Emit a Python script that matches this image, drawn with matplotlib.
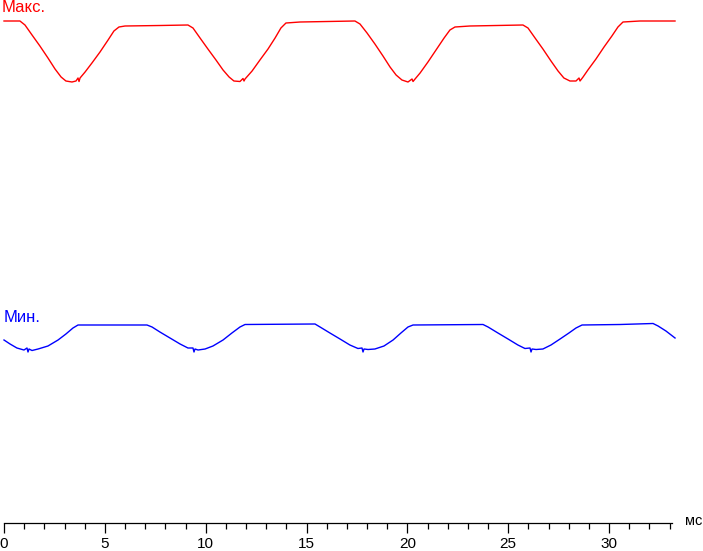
import matplotlib.pyplot as plt
from matplotlib.ticker import MultipleLocator

# brightness curves, time in ms, brightness in relative units
max_t = [0.00, 0.79, 1.04, 1.39, 1.78, 2.18, 2.53, 2.83, 3.07, 3.37, 3.57, 3.67, 3.72, 3.77,
         4.02, 4.36, 4.76, 5.16, 5.45, 5.70, 6.00, 7.73, 9.12,
         9.37, 9.72, 10.11, 10.51, 10.86, 11.16, 11.40, 11.70, 11.85, 11.90, 11.95,
         12.30, 12.69, 13.09, 13.44, 13.73, 13.98, 14.68, 17.40,
         17.65, 18.00, 18.39, 18.79, 19.14, 19.44, 19.73, 20.03, 20.23, 20.28, 20.38,
         20.63, 21.02, 21.42, 21.82, 22.11, 22.36, 23.10, 25.73,
         25.98, 26.33, 26.72, 27.12, 27.47, 27.76, 28.06, 28.36, 28.51, 28.56, 28.71,
         28.95, 29.35, 29.75, 30.14, 30.44, 30.69, 31.53, 33.27]
max_v = [100.4, 100.4, 99.6, 97.6, 95.4, 93.0, 90.8, 89.2, 88.4, 88.2, 88.4, 89.0, 88.3, 89.0,
         90.2, 92.0, 94.2, 96.6, 98.4, 99.2, 99.4, 99.5, 99.6,
         99.0, 97.0, 94.8, 92.6, 90.6, 89.2, 88.4, 88.3, 88.9, 88.4, 88.8,
         90.4, 92.6, 94.8, 97.0, 99.0, 100.0, 100.2, 100.4,
         99.8, 98.0, 95.8, 93.4, 91.2, 89.6, 88.6, 88.2, 88.8, 88.3, 88.8,
         90.0, 92.2, 94.6, 97.0, 98.6, 99.2, 99.4, 99.6,
         99.0, 97.0, 94.8, 92.4, 90.4, 89.0, 88.4, 88.4, 89.0, 88.4, 89.2,
         90.6, 92.8, 95.2, 97.4, 99.2, 100.2, 100.4, 100.4]

min_t = [0.00, 0.30, 0.64, 0.99, 1.14, 1.19, 1.24, 1.39, 1.69, 2.18, 2.68, 3.07, 3.42, 3.67, 7.09,
         7.34, 7.73, 8.23, 8.73, 9.12, 9.37, 9.42, 9.47, 9.62, 9.97, 10.36, 10.86, 11.30, 11.70, 11.95, 15.42,
         15.67, 16.16, 16.66, 17.15, 17.55, 17.75, 17.80, 17.85, 18.05, 18.39, 18.84, 19.29, 19.68, 20.03, 20.28, 23.75,
         24.00, 24.49, 24.99, 25.48, 25.83, 26.08, 26.13, 26.18, 26.38, 26.72, 27.12, 27.57, 28.01, 28.36, 28.66,
         30.54, 32.18, 32.43, 32.82, 33.27]
min_v = [36.6, 35.8, 35.0, 34.6, 35.0, 34.2, 34.8, 34.5, 34.8, 35.4, 36.6, 37.8, 39.0, 39.6, 39.6,
         39.2, 38.2, 37.0, 35.8, 35.0, 35.0, 34.2, 34.8, 34.6, 34.8, 35.4, 36.6, 38.0, 39.2, 39.7, 39.8,
         39.2, 38.0, 36.8, 35.6, 34.9, 35.0, 34.2, 34.8, 34.7, 34.8, 35.4, 36.6, 38.0, 39.2, 39.6, 39.7,
         39.2, 38.0, 36.8, 35.6, 34.9, 35.0, 34.2, 34.8, 34.7, 34.8, 35.6, 36.8, 38.0, 39.0, 39.6,
         39.7, 39.9, 39.4, 38.4, 37.0]

plt.rcParams['font.family'] = ['Liberation Sans', 'DejaVu Sans']

fig = plt.figure(figsize=(7.03, 5.51), dpi=100)
ax = fig.add_axes([4 / 703, 28 / 551, 668 / 703, 523 / 551])

ax.plot(max_t, max_v, color='#ff0000', lw=1.0, clip_on=False)
ax.plot(min_t, min_v, color='#0000ff', lw=1.0, clip_on=False)

ax.text(-0.1, 102.2, 'Макс.', color='#ff0000', fontsize=12, va='baseline', ha='left')
ax.text(0, 40.2, 'Мин.', color='#0000ff', fontsize=12, va='baseline', ha='left')

ax.set_xlim(0, 33.12)
ax.set_ylim(0, 104.6)
for s in ['top', 'right', 'left']:
    ax.spines[s].set_visible(False)
ax.spines['bottom'].set_linewidth(0.9)
ax.set_yticks([])
ax.xaxis.set_major_locator(MultipleLocator(5))
ax.xaxis.set_minor_locator(MultipleLocator(1))
ax.tick_params(axis='x', which='major', length=7.2, width=0.9, pad=3, labelsize=11)
ax.tick_params(axis='x', which='minor', length=4.3, width=0.9)

fig.text(685 / 703, 1 - 521 / 551, 'мс', fontsize=10.5, va='center', ha='left')

fig.savefig('out.png', dpi=100)
